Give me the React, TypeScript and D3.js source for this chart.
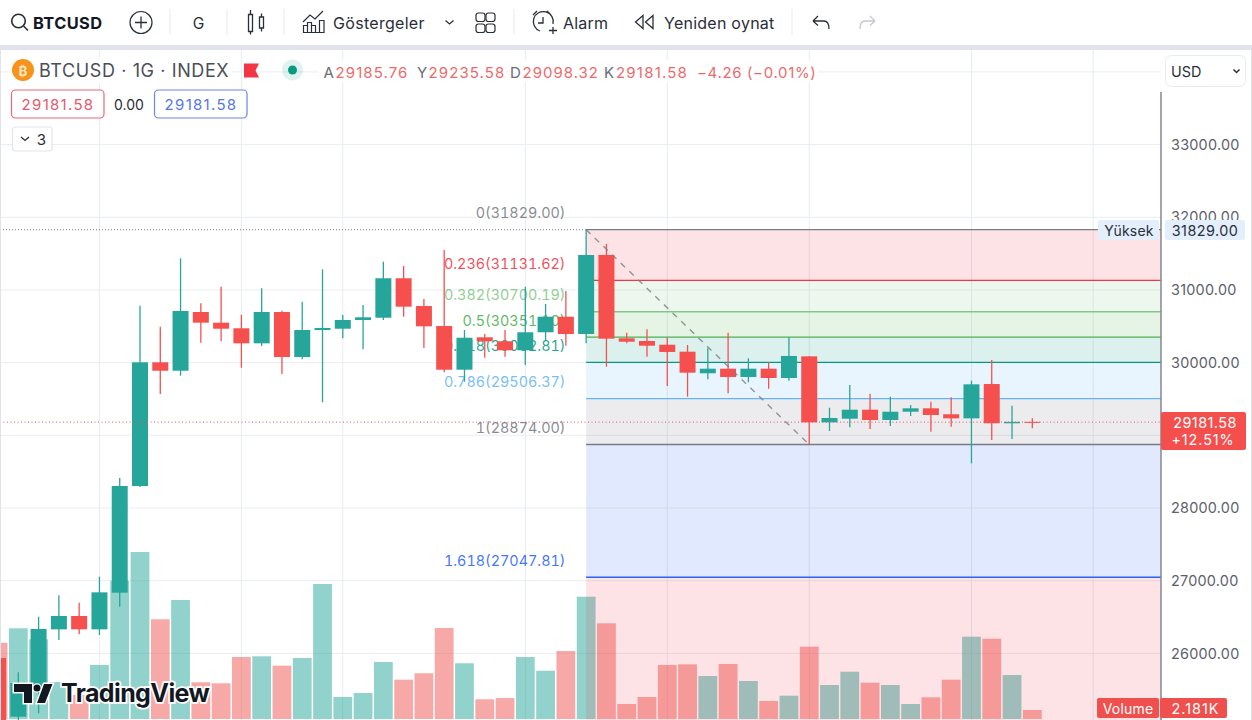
import React, { useEffect, useRef } from 'react';
import * as d3 from 'd3';

const width = 1252;
const height = 720;

// daily candles
const opens = [25937, 25129, 25496, 26331, 26515, 26331, 26835, 28303, 30005, 29889, 30697, 30550, 30473, 30266, 30697, 30078, 30449, 30467, 30587, 30618, 31161, 30779, 30504, 29903, 30349, 30294, 30170, 30418, 30632, 30394, 31481, 30335, 30298, 30247, 30151, 29854, 29917, 29803, 29917, 29789, 30087, 29179, 29229, 29353, 29211, 29325, 29372, 29290, 29234, 29706, 29166, 29185.76];
const highs = [25937, 25740, 26505, 26799, 26698, 27055, 28413, 30784, 30495, 31436, 30817, 31045, 30656, 31023, 30715, 30839, 31284, 30656, 30793, 31389, 31330, 30876, 31550, 30449, 30394, 30449, 31045, 30807, 30986, 31829, 31632, 30412, 30459, 30343, 30243, 30197, 30412, 30060, 30005, 30349, 30092, 29380, 29693, 29573, 29532, 29418, 29463, 29523, 29752, 30036, 29408, 29235.58];
const lows = [25000, 25084, 25176, 26184, 26263, 26253, 26643, 28289, 29569, 29821, 30275, 30294, 29931, 30229, 29844, 30046, 29455, 30335, 30184, 30587, 30632, 30202, 29867, 29738, 30068, 30082, 29968, 30312, 30233, 30266, 29944, 30266, 30082, 29679, 29532, 29771, 29578, 29730, 29642, 29752, 28874, 29060, 29111, 29087, 29128, 29266, 29050, 29119, 28615, 28936, 28950, 29098.32];
const closes = [25080, 25593, 26336, 26515, 26331, 26840, 28303, 30005, 29889, 30711, 30550, 30467, 30266, 30697, 30078, 30449, 30477, 30587, 30624, 31161, 30770, 30500, 29903, 30343, 30294, 30170, 30418, 30632, 30394, 31481, 30330, 30288, 30233, 30147, 29862, 29917, 29803, 29917, 29789, 30092, 29179, 29239, 29353, 29211, 29325, 29372, 29280, 29234, 29702, 29166, 29186, 29181.58];
// volume in thousands
const volumes = [18.47, 21.96, 19.3, 8.96, 5.81, 13.08, 33.49, 40.44, 24.14, 28.81, 8.89, 8.64, 15.01, 15.18, 12.91, 14.77, 32.69, 5.33, 6.3, 13.8, 9.52, 11.07, 22.03, 13.49, 4.77, 5.08, 15.01, 11.69, 16.46, 29.61, 23.17, 3.63, 5.33, 13.08, 13.24, 10.41, 13.32, 9.2, 4.36, 5.64, 17.51, 8.23, 11.45, 8.79, 8.23, 3.63, 5.25, 9.52, 19.93, 19.44, 10.65, 2.181];
const volumeUp = [false, true, true, true, false, true, true, true, false, true, false, false, false, true, false, true, true, true, true, true, false, false, false, true, false, false, true, true, false, true, false, false, false, false, false, true, false, true, false, true, false, true, true, false, true, true, false, false, true, false, true, false];

const priceTicks = [26000, 27000, 28000, 29000, 30000, 31000, 32000, 33000];
const gridPrices = [26000, 27000, 28000, 29000, 30000, 31000, 32000, 33000, 34000];
const gridBars = [5, 12, 17, 26, 33, 40, 48, 54];

const fibHigh = 31829;
const fibLow = 28874;
const fibStartBar = 29;
const fibRatios = [0, 0.236, 0.382, 0.5, 0.618, 0.786, 1, 1.618, 2.618];
const fibLabels = ['0(31829.00)', '0.236(31131.62)', '0.382(30700.19)', '0.5(30351.10)', '0.618(30002.81)', '0.786(29506.37)', '1(28874.00)', '1.618(27047.81)'];
const fibColors = ['#787b86', '#f23645', '#81c784', '#4caf50', '#089981', '#64b5f6', '#787b86', '#2962ff'];
const fibFills = ['#f23645', '#81c784', '#4caf50', '#089981', '#64b5f6', '#787b86', '#2962ff', '#f23645'];

const upColor = '#26a69a';
const downColor = '#f6504e';
const font = 'Inter, "Noto Sans", sans-serif';

export default () => {
  const svgRef = useRef<SVGSVGElement>(null);

  useEffect(() => {
    if (!svgRef.current) {
      return;
    }
    const svg = d3.select(svgRef.current);
    svg.selectAll('*').remove();

    const plotRight = 1161;
    const x = d3.scaleLinear().domain([7, 51]).range([140, 1032.3]);
    const y = d3.scaleLinear().domain([26000, 33000]).range([653.4, 144.6]);
    const yVol = d3.scaleLinear().domain([0, 40]).range([719, 719 - 165.2]);
    const bodyW = 16;
    const volW = 18.8;

    const clip = svg.append('defs').append('clipPath').attr('id', 'plot');
    clip.append('rect').attr('x', 0).attr('y', 50).attr('width', plotRight).attr('height', height - 50);

    svg.append('rect').attr('width', width).attr('height', height).attr('fill', '#fff');

    const plot = svg.append('g').attr('clip-path', 'url(#plot)');

    // grid
    plot.selectAll('line.h').data(gridPrices).enter().append('line')
      .attr('x1', 0).attr('x2', plotRight)
      .attr('y1', d => y(d)).attr('y2', d => y(d))
      .attr('stroke', '#e9edf1').attr('stroke-width', 1);
    plot.selectAll('line.v').data(gridBars).enter().append('line')
      .attr('x1', d => x(d)).attr('x2', d => x(d))
      .attr('y1', 50).attr('y2', height)
      .attr('stroke', '#e6ecf1').attr('stroke-width', 1);

    // volume
    plot.append('g').selectAll('rect').data(volumes).enter().append('rect')
      .attr('x', (d, i) => x(i) - volW / 2)
      .attr('width', volW)
      .attr('y', d => yVol(d))
      .attr('height', d => yVol(0) - yVol(d))
      .attr('fill', (d, i) => volumeUp[i] ? upColor : '#ef5350')
      .attr('opacity', 0.5);

    // fib bands and levels
    const fibPrice = (r: number) => fibHigh - r * (fibHigh - fibLow);
    const fibG = plot.append('g');
    const bands = d3.pairs(fibRatios);
    fibG.selectAll('rect').data(bands).enter().append('rect')
      .attr('x', x(fibStartBar))
      .attr('width', plotRight - x(fibStartBar))
      .attr('y', d => y(fibPrice(d[0])))
      .attr('height', d => y(fibPrice(d[1])) - y(fibPrice(d[0])))
      .attr('fill', (d, i) => fibFills[i])
      .attr('fill-opacity', 0.14);
    fibG.selectAll('line').data(fibRatios.slice(0, 8)).enter().append('line')
      .attr('x1', x(fibStartBar)).attr('x2', plotRight)
      .attr('y1', d => y(fibPrice(d))).attr('y2', d => y(fibPrice(d)))
      .attr('stroke', (d, i) => fibColors[i])
      .attr('stroke-width', 1.3);
    fibG.selectAll('text').data(fibRatios.slice(0, 8)).enter().append('text')
      .text((d, i) => fibLabels[i])
      .attr('x', 565.5)
      .attr('y', d => y(fibPrice(d)) - 11.5)
      .attr('text-anchor', 'end')
      .attr('fill', (d, i) => fibColors[i])
      .attr('fill-opacity', 0.88)
      .style('font', `14.4px ${font}`)
      .style('font-variant-numeric', 'tabular-nums')
      .style('letter-spacing', '0px');

    // dotted high and last price lines
    plot.append('line')
      .attr('x1', 0).attr('x2', x(fibStartBar))
      .attr('y1', y(fibHigh)).attr('y2', y(fibHigh))
      .attr('stroke', '#787b86').attr('stroke-width', 1).attr('stroke-dasharray', '1 2');

    // candles
    const bars = d3.range(opens.length);
    const candles = plot.append('g');
    const colorOf = (i: number) => closes[i] >= opens[i] ? upColor : downColor;
    candles.selectAll('line').data(bars).enter().append('line')
      .attr('x1', i => x(i)).attr('x2', i => x(i))
      .attr('y1', i => y(highs[i])).attr('y2', i => y(lows[i]))
      .attr('stroke', colorOf).attr('stroke-width', 1.3);
    candles.selectAll('rect').data(bars).enter().append('rect')
      .attr('x', i => x(i) - bodyW / 2)
      .attr('width', bodyW)
      .attr('y', i => y(Math.max(opens[i], closes[i])))
      .attr('height', i => Math.max(1, Math.abs(y(opens[i]) - y(closes[i]))))
      .attr('fill', colorOf);

    plot.append('line')
      .attr('x1', 0).attr('x2', plotRight)
      .attr('y1', y(29181.58)).attr('y2', y(29181.58))
      .attr('stroke', '#e5555e').attr('stroke-width', 1).attr('stroke-dasharray', '1 2.5');

    // fib trend line
    plot.append('line')
      .attr('x1', x(fibStartBar)).attr('y1', y(fibHigh))
      .attr('x2', x(40)).attr('y2', y(fibLow))
      .attr('stroke', '#787b86').attr('stroke-width', 1.4).attr('stroke-opacity', 0.8).attr('stroke-dasharray', '6 6');

    // price axis
    const axis = d3.axisRight(y)
      .tickValues(priceTicks)
      .tickSize(0)
      .tickPadding(10)
      .tickFormat(d3.format('.2f') as any);
    const axisG = svg.append('g').attr('transform', `translate(${plotRight}, 0)`).call(axis);
    axisG.select('.domain').remove();
    axisG.selectAll('text').attr('fill', '#5d606b').style('font', `14.4px ${font}`).style('letter-spacing', '0.25px');
    svg.append('line')
      .attr('x1', plotRight).attr('x2', plotRight).attr('y1', 92).attr('y2', height)
      .attr('stroke', '#85878f').attr('stroke-width', 1.5);

    const label = (
      txt: string, lx: number, ly: number, size: number, fill: string,
      anchor = 'start', weight = 400, spacing = 0
    ) => svg.append('text')
      .text(txt)
      .attr('x', lx).attr('y', ly)
      .attr('fill', fill)
      .attr('text-anchor', anchor)
      .attr('dominant-baseline', 'central')
      .style('font', `${weight} ${size}px ${font}`)
      .style('letter-spacing', `${spacing}px`);

    // axis tags
    const tag = (tx: number, ty: number, tw: number, th: number, fill: string, r = 2) => svg.append('rect')
      .attr('x', tx).attr('y', ty).attr('width', tw).attr('height', th).attr('rx', r).attr('fill', fill);
    tag(1098, 220, 61, 20, '#e3effd');
    tag(1165, 220, 80, 20, '#e3effd');
    label('Yüksek', 1129, 230.5, 14, '#2a2e39', 'middle', 400, 0.2);
    label('31829.00', 1205, 230, 14.4, '#2a2e39', 'middle', 400, 0.45);
    tag(1161, 412, 85, 38, '#f44f4d');
    label('29181.58', 1205, 422.5, 14.4, '#fff', 'middle', 400, 0.45);
    label('+12.51%', 1203, 439.5, 14.4, '#fff', 'middle', 400, 0.9);
    tag(1097, 698, 62, 20, '#f0504d');
    tag(1160, 698, 67, 20, '#f0504d');
    label('Volume', 1128, 708.5, 14, '#fff', 'middle', 400, 0.2);
    label('2.181K', 1195.5, 708.5, 14.4, '#fff', 'middle', 400, 1);

    // currency select
    svg.append('rect').attr('x', 1165.5).attr('y', 55.5).attr('width', 80).attr('height', 31).attr('rx', 6)
      .attr('fill', '#fff').attr('stroke', '#e9ebf0');
    label('USD', 1171, 71, 14.4, '#2a2e39');
    svg.append('path').attr('d', 'M1233.5 69.5l3 3 3-3').attr('fill', 'none').attr('stroke', '#2a2e39').attr('stroke-width', 1.5);

    // toolbar
    svg.append('rect').attr('x', 0).attr('y', 45).attr('width', width).attr('height', 5).attr('fill', '#e0e3eb');
    svg.append('rect').attr('x', 0).attr('y', 0).attr('width', width).attr('height', 45).attr('fill', '#fff');
    svg.append('rect').attr('x', 1251).attr('y', 50).attr('width', 1).attr('height', height - 50).attr('fill', '#e0e3eb');
    svg.append('rect').attr('x', 0).attr('y', 50).attr('width', 1).attr('height', height - 50).attr('fill', '#e0e3eb');
    const ink = '#2a2e39';
    const icon = (d: string, stroke = ink, sw = 1.3) => svg.append('path')
      .attr('d', d).attr('fill', 'none').attr('stroke', stroke).attr('stroke-width', sw);
    [170, 227, 284, 514, 792].forEach(sx => {
      svg.append('line').attr('x1', sx).attr('x2', sx).attr('y1', 9).attr('y2', 35).attr('stroke', '#e7e9ef');
    });
    svg.append('circle').attr('cx', 18.5).attr('cy', 21).attr('r', 6.8).attr('fill', 'none').attr('stroke', ink).attr('stroke-width', 1.6);
    icon('M23.5 26l4.5 4.5', ink, 1.6);
    label('BTCUSD', 33, 22.5, 16.4, '#131722', 'start', 700, 0.4);
    svg.append('circle').attr('cx', 141).attr('cy', 22.5).attr('r', 11).attr('fill', 'none').attr('stroke', ink).attr('stroke-width', 1.2);
    icon('M135 22.5h12M141 16.5v12');
    label('G', 198.5, 23, 15.5, ink, 'middle');
    icon('M248.5 14.5h4v17h-4zM250.5 10v4.5M250.5 31.5v3M259.5 17h4v11h-4zM261.5 13.5v3.5M261.5 28v3.5', ink, 1.3);
    icon('M303.5 32.5v-7h4v7zM307.5 32.5v-10h4v10zM311.5 32.5v-7h4v7zM319.5 32.5v-12h4.5v12zM303.5 32.5h21M303 22l7-7 5 4 8-8', ink, 1.2);
    label('Göstergeler', 333, 23, 16, ink, 'start', 400, 0.3);
    icon('M445.5 20.5l4 3.5 4-3.5');
    [[476, 13], [486, 13], [476, 24], [486, 24]].forEach(p => {
      svg.append('rect').attr('x', p[0]).attr('y', p[1]).attr('width', 9).attr('height', 8.5).attr('rx', 2.5)
        .attr('fill', 'none').attr('stroke', ink).attr('stroke-width', 1.2);
    });
    icon('M540 31a10 10 0 1 1 13-7M543 17v6h-5M533 15l4-4M551 15l-4-4M553 27v7M549 30.5h8');
    label('Alarm', 563, 23, 16, ink, 'start', 400, 0.2);
    icon('M643 15.5l-7.5 6.5 7.5 6.5zM653 15.5l-7.5 6.5 7.5 6.5z');
    label('Yeniden oynat', 664, 23, 16, ink, 'start', 400, 0.25);
    icon('M813 21l5-5M813 21l5 4.5M813 21h11q5 0 5 8');
    icon('M875 21l-5-5M875 21l-5 4.5M875 21h-10q-5 0-5 8', '#c5c8d0');

    // legend
    svg.append('rect').attr('x', 36).attr('y', 58).attr('width', 196).attr('height', 26).attr('fill', '#fff');
    svg.append('rect').attr('x', 318).attr('y', 60).attr('width', 500).attr('height', 22).attr('fill', '#fff');
    svg.append('circle').attr('cx', 23).attr('cy', 70).attr('r', 11).attr('fill', '#f7931a');
    label('₿', 23, 70.5, 13, '#fde7c8', 'middle', 700);
    label('BTCUSD · 1G · INDEX', 39, 70.5, 18, '#4a4e59', 'start', 400, 0.6);
    icon('M244 63.5h15l-3.5 7 3.5 7h-15z', '#f23645', 0).attr('fill', '#f23645');
    svg.append('circle').attr('cx', 292.5).attr('cy', 70).attr('r', 10.5).attr('fill', '#089981').attr('fill-opacity', 0.13);
    svg.append('circle').attr('cx', 292.5).attr('cy', 70).attr('r', 4.5).attr('fill', '#089981');
    const legendRed = '#ee6a6a';
    const legendGrey = '#6a6d78';
    label('A', 323.5, 72, 15, legendGrey);
    label('29185.76', 335.5, 72, 15, legendRed, 'start', 400, 1.1);
    label('Y', 417, 72, 15, legendGrey);
    label('29235.58', 428.5, 72, 15, legendRed, 'start', 400, 1.1);
    label('D', 510, 72, 15, legendGrey);
    label('29098.32', 522.5, 72, 15, legendRed, 'start', 400, 1);
    label('K', 604, 72, 15, legendGrey);
    label('29181.58', 616, 72, 15, legendRed, 'start', 400, 1.2);
    label('−4.26 (−0.01%)', 697, 72, 15, legendRed, 'start', 400, 0.65);

    svg.append('rect').attr('x', 11.5).attr('y', 90).attr('width', 92.5).attr('height', 28).attr('rx', 4)
      .attr('fill', '#fff').attr('stroke', '#e8677a').attr('stroke-width', 1.2);
    label('29181.58', 58, 104.5, 15, '#e8576a', 'middle', 400, 1.3);
    label('0.00', 129, 104.5, 14, '#2a2e39', 'middle');
    svg.append('rect').attr('x', 154.5).attr('y', 90).attr('width', 92.5).attr('height', 28).attr('rx', 4)
      .attr('fill', '#fff').attr('stroke', '#6c86e0').attr('stroke-width', 1.2);
    label('29181.58', 201, 104.5, 15, '#5576e8', 'middle', 400, 1.3);
    svg.append('rect').attr('x', 12.5).attr('y', 127).attr('width', 39.5).attr('height', 24).attr('rx', 3)
      .attr('fill', '#fff').attr('stroke', '#e3e5ea').attr('stroke-width', 1.2);
    icon('M21 137l4 3.5 4-3.5', ink, 1.3);
    label('3', 41.5, 139.5, 15, ink, 'middle');

    // logo
    const logo = svg.append('g');
    logo.append('path')
      .attr('d', 'M14 684h18v19h-8v-11h-10zM37 703l7-19h8.5l-7.5 19z')
      .attr('fill', '#131722').attr('stroke', '#fff').attr('stroke-width', 3).attr('paint-order', 'stroke');
    logo.append('circle').attr('cx', 37).attr('cy', 688).attr('r', 3.5)
      .attr('fill', '#131722').attr('stroke', '#fff').attr('stroke-width', 2.5).attr('paint-order', 'stroke');
    logo.append('text').text('TradingView')
      .attr('x', 61).attr('y', 702)
      .attr('fill', '#131722')
      .attr('stroke', '#fff').attr('stroke-width', 3.5).attr('paint-order', 'stroke')
      .style('font', `700 25px ${font}`)
      .style('letter-spacing', '-0.6px');
  }, []);

  return (
    <svg
      ref={svgRef}
      width={width}
      height={height}
      style={{ position: 'fixed', left: 0, top: 0, display: 'block' }}
    />
  );
};
